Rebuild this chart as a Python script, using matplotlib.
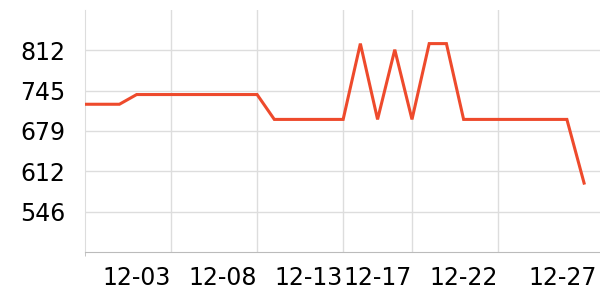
import matplotlib
matplotlib.use("Agg")
import matplotlib.pyplot as plt
import matplotlib.transforms as mtransforms

# daily series, 11-28 .. 12-27
dates = ["11-28", "11-29", "11-30", "12-01", "12-02", "12-03", "12-04", "12-05",
         "12-06", "12-07", "12-08", "12-09", "12-10", "12-11", "12-12", "12-13",
         "12-14", "12-15", "12-16", "12-17", "12-18", "12-19", "12-20", "12-21",
         "12-22", "12-23", "12-24", "12-25", "12-26", "12-27"]
values = [723, 723, 723, 739, 739, 739, 739, 739, 739, 739, 739, 698, 698, 698, 698,
          698, 823, 698, 813, 698, 823, 823, 698, 698, 698, 698, 698, 698, 698, 593]
label_dates = ["12-03", "12-08", "12-13", "12-17", "12-22", "12-27"]
y_ticks = [545.9, 612.4, 678.9, 745.4, 811.9]

fig = plt.figure(figsize=(6, 3), dpi=100)
ax = fig.add_axes([85 / 600, 1 - 252 / 300, 515 / 600, 242 / 300])

x = list(range(len(dates)))
ax.plot(x, values, color="#ee4a2c", linewidth=2.2, solid_joinstyle="miter", zorder=3)

ax.set_xlim(0, 515 / 17.21)
ax.set_ylim(479.4, 878.4)

ax.set_yticks(y_ticks)
ax.set_yticklabels(["%.0f" % v for v in y_ticks], fontsize=17)
xt = [dates.index(d) for d in label_dates]
ax.set_xticks(xt)
ax.set_xticklabels(label_dates, fontsize=17, ha="right")
ax.set_xticks([0], minor=True)

ax.grid(True, color="#dddddd", linewidth=1)
ax.set_axisbelow(True)
ax.tick_params(axis="both", which="major", length=0)
ax.tick_params(axis="x", which="major", pad=10)
ax.tick_params(axis="y", pad=14)
ax.tick_params(axis="x", which="minor", length=3, color="#bbbbbb")

# last label sits against the right edge, its grid line is off canvas
xticks = ax.xaxis.get_major_ticks()
xticks[-1].gridline.set_visible(False)
off = mtransforms.ScaledTranslation(13 / 100, 0, fig.dpi_scale_trans)
lab = xticks[-1].label1
lab.set_transform(lab.get_transform() + off)

for s in ["top", "right"]:
    ax.spines[s].set_visible(False)
ax.spines["left"].set_color("#dddddd")
ax.spines["bottom"].set_color("#bbbbbb")

fig.savefig("out.png", dpi=100)
